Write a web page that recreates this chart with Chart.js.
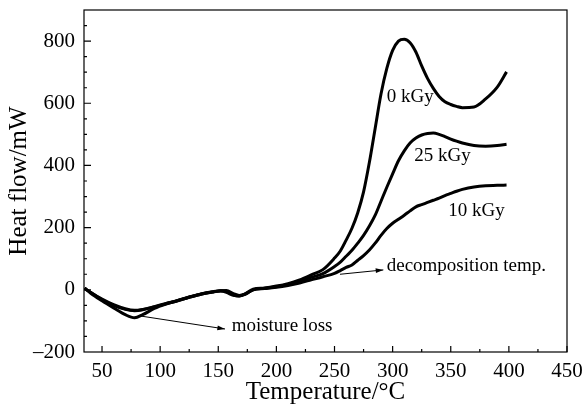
<!DOCTYPE html>
<html>
<head>
<meta charset="utf-8">
<script src="https://cdn.jsdelivr.net/npm/chart.js@4"></script>
<style>
  html, body { margin: 0; padding: 0; background: #fff; }
  #wrap { width: 587px; height: 411px; }
</style>
</head>
<body>
<div id="wrap"><canvas id="dscChart"></canvas></div>
<script>
// temperature grid (°C), shared by all three runs
const temps = [35, 40, 50, 60, 70, 78, 85, 95, 105, 115,
  125, 135, 145, 152, 157, 163, 168, 173, 180, 190,
  200, 210, 220, 230, 240, 250, 255, 260, 265, 270,
  275, 280, 285, 290, 295, 300, 305, 310, 315, 320,
  325, 330, 335, 340, 345, 350, 355, 360, 370, 380,
  390, 398];

// heat flow (mW) per dose
const flow0 = [5, -8, -32, -50, -63, -67, -64, -55, -45, -35,
  -24, -14, -7, -4, -8, -18, -20, -13, 2, 6,
  12, 20, 32, 48, 65, 102, 125, 160, 198, 248,
  315, 410, 520, 630, 712, 770, 800, 806, 795, 765,
  720, 680, 648, 622, 605, 596, 590, 586, 588, 614,
  652, 701];

const flow25 = [5, -10, -35, -58, -80, -90, -80, -60, -46, -35,
  -24, -14, -7, -3, -2, -12, -18, -14, 0, 5,
  10, 17, 27, 40, 52, 75, 89, 108, 127, 150,
  175, 205, 240, 285, 330, 373, 415, 447, 472, 488,
  498, 503, 504, 500, 493, 485, 478, 472, 464, 462,
  464, 468];

const flow10 = [5, -8, -30, -48, -61, -66, -63, -54, -44, -34,
  -23, -13, -6, -3, -5, -16, -20, -15, 0, 4,
  8, 14, 22, 32, 42, 53, 62, 72, 80, 95,
  110, 128, 150, 175, 197, 214, 227, 240, 254, 267,
  274, 281, 288, 295, 303, 310, 317, 323, 331, 335,
  336, 337];

const xTicks = [50, 100, 150, 200, 250, 300, 350, 400, 450];
const yTicks = [-200, 0, 200, 400, 600, 800];

const serif = '"Liberation Serif", "DejaVu Serif", serif';

function toPoints(ys) {
  return temps.map((t, i) => ({ x: t, y: ys[i] }));
}

function series(label, ys) {
  return {
    label: label,
    data: toPoints(ys),
    borderColor: '#000',
    borderWidth: 3,
    pointRadius: 0,
    fill: false,
    cubicInterpolationMode: 'monotone'
  };
}

// frame, inward tick marks, labels and arrows
const decor = {
  id: 'decor',
  afterDraw(chart) {
    const c = chart.ctx;
    const a = chart.chartArea;
    const xs = chart.scales.x;
    const ys = chart.scales.y;
    c.save();
    c.strokeStyle = '#000';
    c.lineWidth = 1.2;
    c.strokeRect(a.left, a.top, a.right - a.left, a.bottom - a.top);

    c.beginPath();
    for (let v = 50; v <= 450; v += 25) {
      const px = xs.getPixelForValue(v);
      const len = v % 50 === 0 ? 6 : 3;
      c.moveTo(px, a.bottom);
      c.lineTo(px, a.bottom - len);
    }
    for (let v = -150; v <= 850; v += 50) {
      const py = ys.getPixelForValue(v);
      const len = v % 200 === 0 ? 7 : 3;
      c.moveTo(a.left, py);
      c.lineTo(a.left + len, py);
    }
    c.stroke();

    c.fillStyle = '#000';
    c.font = '19px ' + serif;
    c.textBaseline = 'middle';
    c.textAlign = 'left';
    const label = (txt, t, h) => c.fillText(txt, xs.getPixelForValue(t), ys.getPixelForValue(h));
    label('0 kGy', 295, 619);
    label('25 kGy', 318.7, 431);
    label('10 kGy', 347.9, 254);
    label('decomposition temp.', 294.9, 76);
    label('moisture loss', 161.5, -118);

    const arrow = (t1, h1, t2, h2) => {
      const x1 = xs.getPixelForValue(t1), y1 = ys.getPixelForValue(h1);
      const x2 = xs.getPixelForValue(t2), y2 = ys.getPixelForValue(h2);
      const ang = Math.atan2(y2 - y1, x2 - x1);
      c.lineWidth = 1;
      c.beginPath();
      c.moveTo(x1, y1);
      c.lineTo(x2, y2);
      c.stroke();
      c.beginPath();
      c.moveTo(x2, y2);
      c.lineTo(x2 - 8 * Math.cos(ang - 0.3), y2 - 8 * Math.sin(ang - 0.3));
      c.lineTo(x2 - 8 * Math.cos(ang + 0.3), y2 - 8 * Math.sin(ang + 0.3));
      c.closePath();
      c.fill();
    };
    arrow(82.7, -84, 155.8, -126);
    arrow(254.7, 50, 292, 64);
    c.restore();
  }
};

const ctx = document.getElementById('dscChart').getContext('2d');
const dscChart = new Chart(ctx, {
  type: 'line',
  data: {
    datasets: [
      series('0 kGy', flow0),
      series('25 kGy', flow25),
      series('10 kGy', flow10)
    ]
  },
  options: {
    responsive: true,
    maintainAspectRatio: false,
    animation: false,
    layout: { padding: { top: 10, right: 20, left: 0, bottom: 0 } },
    plugins: {
      legend: { display: false },
      tooltip: { enabled: false }
    },
    scales: {
      x: {
        type: 'linear',
        min: 34.5,
        max: 450,
        grid: { display: false, drawTicks: false },
        border: { display: false },
        afterBuildTicks: (s) => { s.ticks = xTicks.map(v => ({ value: v })); },
        afterFit: (s) => {
          s.height = 59;
          s.paddingLeft = 0;
          s.paddingRight = 0;
        },
        ticks: {
          color: '#000',
          padding: 7,
          maxRotation: 0,
          font: { family: serif, size: 21 }
        },
        title: {
          display: true,
          text: 'Temperature/°C',
          color: '#000',
          padding: { top: 0, bottom: 4 },
          font: { family: serif, size: 25 }
        }
      },
      y: {
        min: -200,
        max: 900,
        grid: { display: false, drawTicks: false },
        border: { display: false },
        afterBuildTicks: (s) => { s.ticks = yTicks.map(v => ({ value: v })); },
        afterFit: (s) => {
          s.width = 84;
          s.paddingTop = 0;
          s.paddingBottom = 0;
        },
        ticks: {
          color: '#000',
          padding: 9,
          font: { family: serif, size: 21 },
          callback: (v) => String(v).replace('-', '\u2013')
        },
        title: {
          display: true,
          text: 'Heat flow/mW',
          color: '#000',
          padding: { top: 4, bottom: 0 },
          font: { family: serif, size: 25 }
        }
      }
    }
  },
  plugins: [decor]
});
</script>
</body>
</html>
